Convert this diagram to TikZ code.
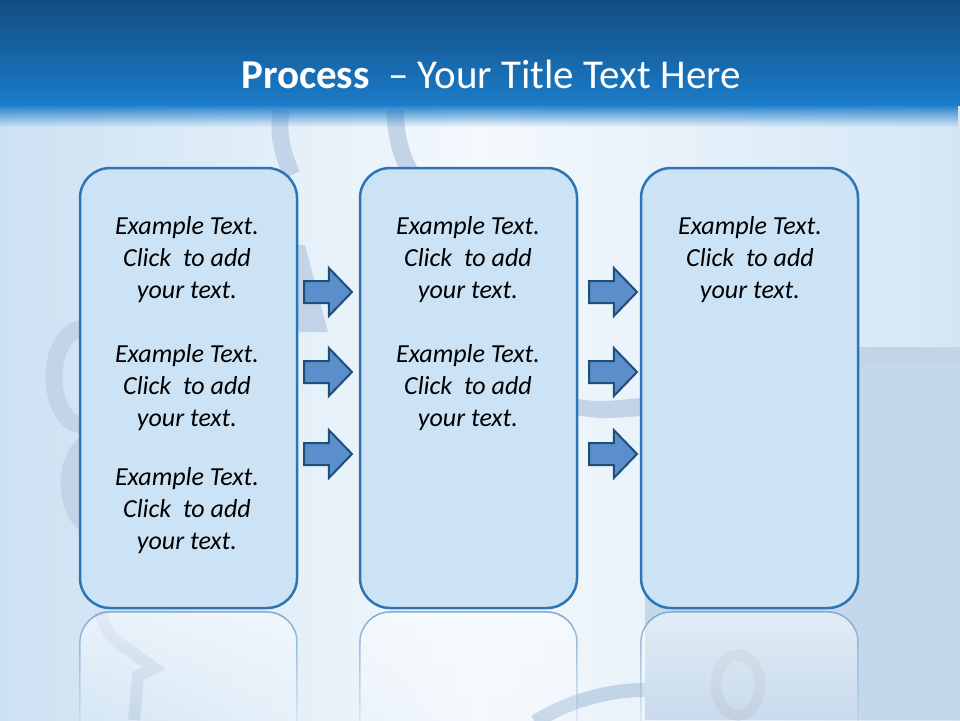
\documentclass[tikz,border=0pt]{standalone}
\usepackage{fontspec}
\setmainfont{Carlito}
\usepackage{tikz}
\usetikzlibrary{arrows.meta,positioning,shapes.arrows,fadings}
\definecolor{hdrtop}{HTML}{124D80}
\definecolor{hdrbot}{HTML}{1B7CC9}
\definecolor{bgleft}{HTML}{CCE1F3}
\definecolor{bgmid}{HTML}{F4F9FD}
\definecolor{bgright}{HTML}{D4E6F5}
\definecolor{puzzle}{HTML}{C3D4E8}
\definecolor{panel}{HTML}{C4D8EC}
\definecolor{boxfill}{HTML}{CCE3F6}
\definecolor{boxline}{HTML}{2E75B6}
\definecolor{arrfill}{HTML}{5B8FCB}
\definecolor{arrline}{HTML}{1F4E79}
\tikzfading[name=fadedown, top color=transparent!0, bottom color=transparent!100]
\newcommand{\sample}{Example Text.\\Click\ \ to add\\your text.}

\begin{document}
\begin{tikzpicture}[
  x=1pt, y=-1pt,
  stepbox/.style={draw=boxline, line width=2.5pt, rounded corners=30pt,
                  fill=boxfill, minimum width=217pt, minimum height=440pt},
  mirror/.style={draw=boxline!60, line width=1.5pt, rounded corners=30pt,
                 fill=white!60!bgmid, fill opacity=0.55, path fading=fadedown},
  note/.style={align=center, font=\fontsize{26}{32}\selectfont\itshape},
  blockarrow/.style={single arrow, draw=arrline, line width=2pt, fill=arrfill,
                     anchor=west, minimum height=48pt, inner xsep=0pt, inner ysep=10pt,
                     single arrow head extend=13pt, single arrow tip angle=92},
  piece/.style={draw=puzzle, line width=17pt}
]
  \useasboundingbox (0,0) rectangle (960,720);

  % background
  \fill[left color=bgleft, right color=bgright, middle color=bgmid]
    (0,0) rectangle (960,720);
  \fill[panel] (645,356) rectangle (960,720);
  \fill[puzzle] (859,347) rectangle (960,364);
  \fill[puzzle] (570,398) .. controls (600,402) .. (641,398) -- (641,416)
    .. controls (600,419) .. (570,414) -- cycle;
  \draw[piece] (281,110) .. controls (278,135) and (281,150) .. (292,175);
  \draw[piece] (395,110) .. controls (396,140) and (402,160) .. (415,180);
  \fill[puzzle] (297,245) -- (305,245) -- (328,332) -- (297,332) -- cycle;
  \draw[piece] (82,377) ellipse [x radius=28, y radius=48];
  \fill[puzzle] (82,436) .. controls (52,455) and (55,515) .. (82,532) -- cycle;
  \draw[piece, line width=12pt] (100,612) .. controls (108,635) .. (126,648)
    -- (154,668) -- (138,676) -- (134,720);
  \draw[piece, line width=14pt] (535,722) .. controls (570,700) and (610,690) .. (645,690);
  \draw[piece, draw=puzzle!90!gray, line width=11pt] (738,685) ellipse [x radius=22, y radius=30];

  % header
  \fill[top color=hdrtop, bottom color=hdrbot] (0,0) rectangle (960,105);
  \fill[hdrbot, path fading=fadedown] (0,104) rectangle (960,127);
  \node[text=white, anchor=base, font=\fontsize{41}{46}\selectfont] (title) at (491,88)
    {\textbf{Process}\ \ – Your Title Text Here};

  % reflections
  \foreach \cx in {188.5, 468.5, 749.5}
    \draw[mirror] (\cx-108.5,740) -- (\cx-108.5,612) -- (\cx+108.5,612) -- (\cx+108.5,740);

  % boxes
  \node[stepbox] (box1) at (188.5,388) {};
  \node[stepbox] (box2) at (468.5,388) {};
  \node[stepbox] (box3) at (749.5,388) {};

  \node[note] (t11) at (187,260) {\sample};
  \node[note] (t12) at (187,388) {\sample};
  \node[note] (t13) at (187,511) {\sample};
  \node[note] (t21) at (468,260) {\sample};
  \node[note] (t22) at (468,388) {\sample};
  \node[note] (t31) at (750,260) {\sample};

  % arrows
  \node[blockarrow] (a11) at (303,292) {};
  \node[blockarrow] (a12) at (303,372) {};
  \node[blockarrow] (a13) at (303,454) {};
  \node[blockarrow] (a21) at (588,292) {};
  \node[blockarrow] (a22) at (588,372) {};
  \node[blockarrow] (a23) at (588,454) {};
\end{tikzpicture}
\end{document}
